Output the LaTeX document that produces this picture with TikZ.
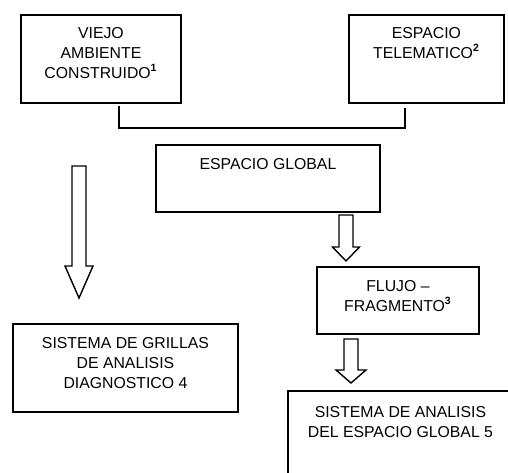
\documentclass[tikz,border=0pt]{standalone}
\usepackage{fontspec}
\setmainfont{Liberation Sans}
\usetikzlibrary{positioning}
\newcommand{\blockarrow}[6]{\draw[arrowline] (#1-#5,#2) -- (#1+#5,#2) -- (#1+#5,#3) -- (#1+#6,#3) -- (#1,#4) -- (#1-#6,#3) -- (#1-#5,#3) -- cycle;}

\begin{document}
\begin{tikzpicture}[x=0.02cm,y=-0.02cm,
  box/.style={draw,line width=1.1pt,anchor=north west,inner sep=0pt},
  lbl/.style={align=center,inner sep=0pt,font=\fontsize{9}{11.3}\selectfont},
  arrowline/.style={line width=0.8pt,line join=miter}]
\useasboundingbox (0,0) rectangle (508,473);
\clip (0,0) rectangle (508,473);

\node[box,minimum width=32mm,minimum height=17.6mm] (viejo) at (20,14) {};
\node[lbl,below=2.6mm of viejo.north] (viejo-txt) {VIEJO\\AMBIENTE\\CONSTRUIDO\textsuperscript{\textbf{1}}};

\node[box,minimum width=31mm,minimum height=17.6mm] (tele) at (348,14) {};
\node[lbl,below=2.6mm of tele.north] (tele-txt) {ESPACIO\\TELEMATICO\textsuperscript{\textbf{2}}};

\node[box,minimum width=44.8mm,minimum height=13.4mm] (global) at (155,144) {};
\node[lbl,below=2.8mm of global.north] (global-txt) {ESPACIO GLOBAL};

\node[box,minimum width=32.4mm,minimum height=13.4mm] (flujo) at (316,266) {};
\node[lbl,below=2.8mm of flujo.north] (flujo-txt) {FLUJO --\\FRAGMENTO\textsuperscript{\textbf{3}}};

\node[box,minimum width=45mm,minimum height=17.6mm] (grillas) at (12,323) {};
\node[lbl,below=2.8mm of grillas.north] (grillas-txt) {SISTEMA DE GRILLAS\\DE ANALISIS\\DIAGNOSTICO 4};

\node[box,minimum width=45mm,minimum height=20mm] (analisis) at (287,390) {};
\node[lbl,below=3.2mm of analisis.north] (analisis-txt) {SISTEMA DE ANALISIS\\DEL ESPACIO GLOBAL 5};

\coordinate (b1) at (119,106);
\coordinate (bm) at (260,128);
\coordinate (b2) at (405,108);
\draw[line width=1.1pt] (b1) |- (bm) -| (b2);

\blockarrow{79}{166}{266}{298}{7}{14}
\blockarrow{346}{215}{247}{261}{7}{13.5}
\blockarrow{351}{339}{370}{383}{7}{15}
\end{tikzpicture}
\end{document}
